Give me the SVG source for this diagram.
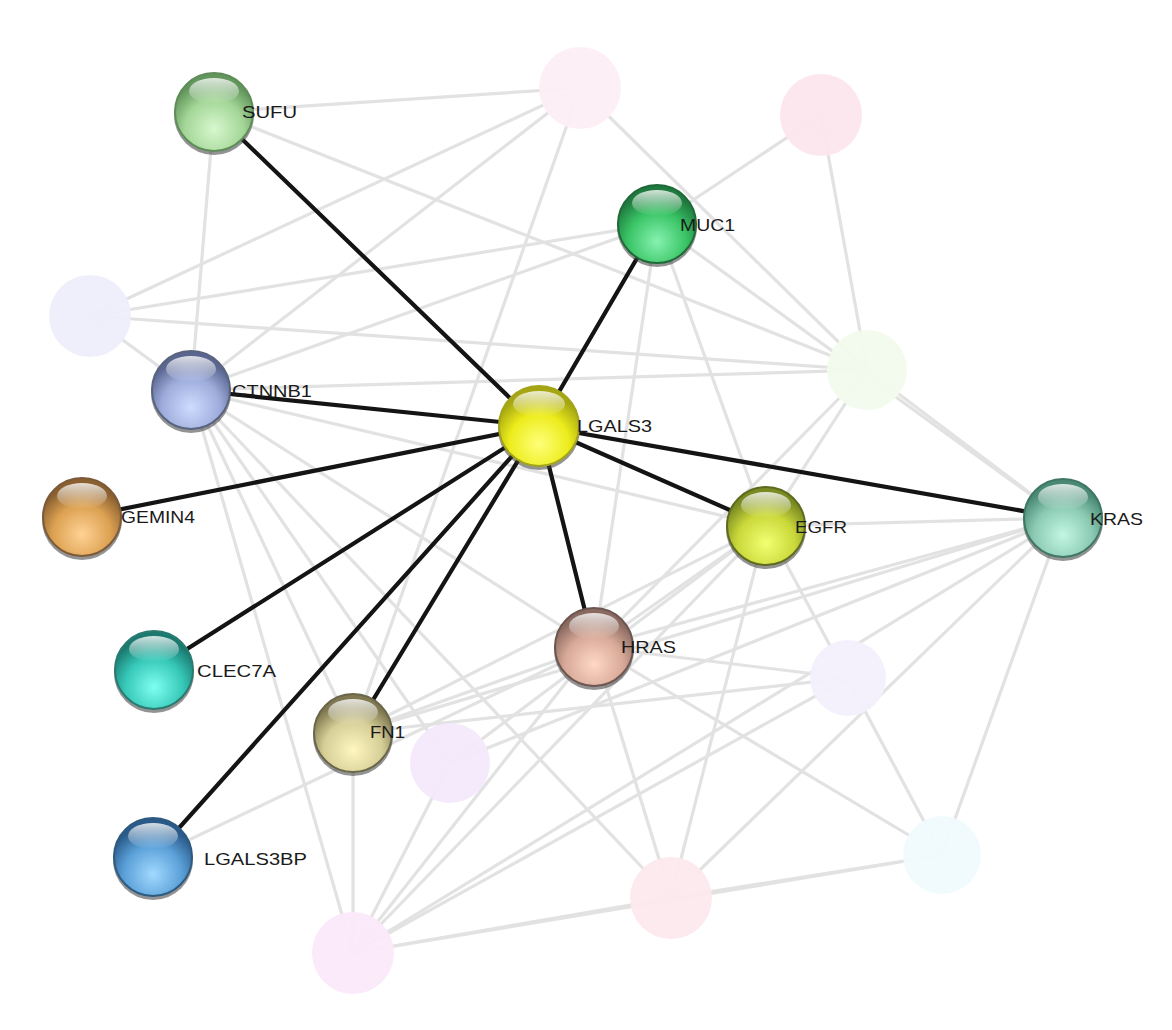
<svg xmlns="http://www.w3.org/2000/svg" width="1172" height="1030" viewBox="0 0 1172 1030">
<style>
.bg{fill:#ffffff}
.grey line{stroke:#e2e2e2;stroke-width:3.2;stroke-linecap:round}
.black line{stroke:#141414;stroke-width:4.2;stroke-linecap:round}
.faded{stroke:none;fill-opacity:0.95}
.shadow{fill:#3a3a3a;opacity:0.55}
.ball{stroke-width:2}
.hl{fill:url(#hl)}
.lbl{font-family:"Liberation Sans",Arial,sans-serif;font-size:17px;fill:#1a1a1a}
</style>
<defs>
<linearGradient id="hl" x1="0" y1="0" x2="0" y2="1">
<stop offset="0" stop-color="#ffffff" stop-opacity="0.8"/>
<stop offset="1" stop-color="#ffffff" stop-opacity="0"/>
</linearGradient>
<radialGradient id="g-sufu" cx="0.5" cy="0.72" r="0.62"><stop offset="0" stop-color="#d8f7cf"/><stop offset="0.6" stop-color="#a4d798"/><stop offset="1" stop-color="#62965c"/></radialGradient>
<radialGradient id="g-muc1" cx="0.5" cy="0.72" r="0.62"><stop offset="0" stop-color="#86f2b0"/><stop offset="0.6" stop-color="#3ac466"/><stop offset="1" stop-color="#1e7a3e"/></radialGradient>
<radialGradient id="g-ctnnb1" cx="0.5" cy="0.72" r="0.62"><stop offset="0" stop-color="#cfdcff"/><stop offset="0.6" stop-color="#9eacdc"/><stop offset="1" stop-color="#5a6690"/></radialGradient>
<radialGradient id="g-lgals3" cx="0.5" cy="0.72" r="0.62"><stop offset="0" stop-color="#ffff7a"/><stop offset="0.6" stop-color="#ecec1c"/><stop offset="1" stop-color="#a6a612"/></radialGradient>
<radialGradient id="g-gemin4" cx="0.5" cy="0.72" r="0.62"><stop offset="0" stop-color="#ffd294"/><stop offset="0.6" stop-color="#dca152"/><stop offset="1" stop-color="#8a6030"/></radialGradient>
<radialGradient id="g-egfr" cx="0.5" cy="0.72" r="0.62"><stop offset="0" stop-color="#f2ff72"/><stop offset="0.6" stop-color="#cad83a"/><stop offset="1" stop-color="#7a8a22"/></radialGradient>
<radialGradient id="g-kras" cx="0.5" cy="0.72" r="0.62"><stop offset="0" stop-color="#c2f7e2"/><stop offset="0.6" stop-color="#8ccab4"/><stop offset="1" stop-color="#4a8a74"/></radialGradient>
<radialGradient id="g-hras" cx="0.5" cy="0.72" r="0.62"><stop offset="0" stop-color="#ffd8c6"/><stop offset="0.6" stop-color="#d8a998"/><stop offset="1" stop-color="#8a6a60"/></radialGradient>
<radialGradient id="g-clec7a" cx="0.5" cy="0.72" r="0.62"><stop offset="0" stop-color="#7ffff0"/><stop offset="0.6" stop-color="#36c8b8"/><stop offset="1" stop-color="#1a7a70"/></radialGradient>
<radialGradient id="g-fn1" cx="0.5" cy="0.72" r="0.62"><stop offset="0" stop-color="#fff6c0"/><stop offset="0.6" stop-color="#d6cf98"/><stop offset="1" stop-color="#807850"/></radialGradient>
<radialGradient id="g-lgals3bp" cx="0.5" cy="0.72" r="0.62"><stop offset="0" stop-color="#a2d9ff"/><stop offset="0.6" stop-color="#5aa0d8"/><stop offset="1" stop-color="#2a5a8a"/></radialGradient>
</defs>
<rect class="bg" x="0" y="0" width="1172" height="1030"/>
<g id="connectors">
<g class="grey">
<line x1="214" y1="112" x2="580" y2="88"/>
<line x1="214" y1="112" x2="191" y2="390"/>
<line x1="214" y1="112" x2="867" y2="370"/>
<line x1="580" y1="88" x2="90" y2="316"/>
<line x1="580" y1="88" x2="191" y2="390"/>
<line x1="580" y1="88" x2="867" y2="370"/>
<line x1="580" y1="88" x2="353" y2="733"/>
<line x1="821" y1="115" x2="657" y2="224"/>
<line x1="821" y1="115" x2="867" y2="370"/>
<line x1="657" y1="224" x2="191" y2="390"/>
<line x1="657" y1="224" x2="90" y2="316"/>
<line x1="657" y1="224" x2="1063" y2="518"/>
<line x1="657" y1="224" x2="766" y2="526"/>
<line x1="657" y1="224" x2="594" y2="647"/>
<line x1="90" y1="316" x2="867" y2="370"/>
<line x1="90" y1="316" x2="191" y2="390"/>
<line x1="191" y1="390" x2="867" y2="370"/>
<line x1="191" y1="390" x2="766" y2="526"/>
<line x1="191" y1="390" x2="594" y2="647"/>
<line x1="191" y1="390" x2="353" y2="953"/>
<line x1="191" y1="390" x2="450" y2="763"/>
<line x1="191" y1="390" x2="671" y2="898"/>
<line x1="191" y1="390" x2="353" y2="733"/>
<line x1="867" y1="370" x2="594" y2="647"/>
<line x1="867" y1="370" x2="1063" y2="518"/>
<line x1="867" y1="370" x2="766" y2="526"/>
<line x1="766" y1="526" x2="1063" y2="518"/>
<line x1="766" y1="526" x2="942" y2="855"/>
<line x1="766" y1="526" x2="671" y2="898"/>
<line x1="766" y1="526" x2="353" y2="953"/>
<line x1="766" y1="526" x2="594" y2="647"/>
<line x1="766" y1="526" x2="353" y2="733"/>
<line x1="766" y1="526" x2="450" y2="763"/>
<line x1="1063" y1="518" x2="594" y2="647"/>
<line x1="1063" y1="518" x2="353" y2="733"/>
<line x1="1063" y1="518" x2="450" y2="763"/>
<line x1="1063" y1="518" x2="353" y2="953"/>
<line x1="1063" y1="518" x2="671" y2="898"/>
<line x1="1063" y1="518" x2="942" y2="855"/>
<line x1="594" y1="647" x2="353" y2="953"/>
<line x1="594" y1="647" x2="671" y2="898"/>
<line x1="594" y1="647" x2="942" y2="855"/>
<line x1="594" y1="647" x2="353" y2="733"/>
<line x1="594" y1="647" x2="153" y2="857"/>
<line x1="594" y1="647" x2="848" y2="678"/>
<line x1="848" y1="678" x2="353" y2="733"/>
<line x1="848" y1="678" x2="353" y2="953"/>
<line x1="353" y1="733" x2="353" y2="953"/>
<line x1="353" y1="953" x2="671" y2="898"/>
<line x1="353" y1="953" x2="942" y2="855"/>
<line x1="353" y1="953" x2="450" y2="763"/>
<line x1="671" y1="898" x2="942" y2="855"/>
</g>
<g class="black">
<line x1="539" y1="426" x2="214" y2="112"/>
<line x1="539" y1="426" x2="657" y2="224"/>
<line x1="539" y1="426" x2="191" y2="390"/>
<line x1="539" y1="426" x2="82" y2="517"/>
<line x1="539" y1="426" x2="154" y2="670"/>
<line x1="539" y1="426" x2="153" y2="857"/>
<line x1="539" y1="426" x2="353" y2="733"/>
<line x1="539" y1="426" x2="594" y2="647"/>
<line x1="539" y1="426" x2="766" y2="526"/>
<line x1="539" y1="426" x2="1063" y2="518"/>
</g>
</g>
<g id="node-f1"><circle class="faded" cx="580" cy="88" r="41" fill="#fdeef5"/></g>
<g id="node-f2"><circle class="faded" cx="821" cy="115" r="41" fill="#fde6ed"/></g>
<g id="node-f3"><circle class="faded" cx="90" cy="316" r="41" fill="#eeeefc"/></g>
<g id="node-f4"><circle class="faded" cx="867" cy="370" r="40" fill="#f2fbed"/></g>
<g id="node-f5"><circle class="faded" cx="848" cy="678" r="38" fill="#f3f0fd"/></g>
<g id="node-f6"><circle class="faded" cx="450" cy="763" r="40" fill="#f4e9fb"/></g>
<g id="node-f7"><circle class="faded" cx="942" cy="855" r="39" fill="#f0fbfd"/></g>
<g id="node-f8"><circle class="faded" cx="671" cy="898" r="41" fill="#fde9ed"/></g>
<g id="node-f9"><circle class="faded" cx="353" cy="953" r="41" fill="#fbe9fa"/></g>

<g id="node-sufu">
<circle class="shadow" cx="214" cy="115" r="40"/>
<circle class="ball" cx="214" cy="112" r="39" fill="url(#g-sufu)" stroke="#5e8d58"/>
<ellipse class="hl" cx="214" cy="91" rx="25" ry="13"/>
<text class="lbl" x="242" y="118" textLength="55" lengthAdjust="spacingAndGlyphs">SUFU</text>
</g>
<g id="node-muc1">
<circle class="shadow" cx="657" cy="227" r="40"/>
<circle class="ball" cx="657" cy="224" r="39" fill="url(#g-muc1)" stroke="#1f6a38"/>
<ellipse class="hl" cx="657" cy="203" rx="25" ry="13"/>
<text class="lbl" x="680" y="231" textLength="55" lengthAdjust="spacingAndGlyphs">MUC1</text>
</g>
<g id="node-ctnnb1">
<circle class="shadow" cx="191" cy="393" r="40"/>
<circle class="ball" cx="191" cy="390" r="39" fill="url(#g-ctnnb1)" stroke="#58637e"/>
<ellipse class="hl" cx="191" cy="369" rx="25" ry="13"/>
<text class="lbl" x="232" y="397" textLength="80" lengthAdjust="spacingAndGlyphs">CTNNB1</text>
</g>
<g id="node-lgals3">
<circle class="shadow" cx="539" cy="429" r="41"/>
<circle class="ball" cx="539" cy="426" r="40" fill="url(#g-lgals3)" stroke="#a4a41a"/>
<ellipse class="hl" cx="539" cy="404" rx="26" ry="13"/>
<text class="lbl" x="577" y="432" textLength="75" lengthAdjust="spacingAndGlyphs">LGALS3</text>
</g>
<g id="node-gemin4">
<circle class="shadow" cx="82" cy="520" r="40"/>
<circle class="ball" cx="82" cy="517" r="39" fill="url(#g-gemin4)" stroke="#7c5a38"/>
<ellipse class="hl" cx="82" cy="496" rx="25" ry="13"/>
<text class="lbl" x="121" y="523" textLength="74" lengthAdjust="spacingAndGlyphs">GEMIN4</text>
</g>
<g id="node-egfr">
<circle class="shadow" cx="766" cy="529" r="40"/>
<circle class="ball" cx="766" cy="526" r="39" fill="url(#g-egfr)" stroke="#5e6a1e"/>
<ellipse class="hl" cx="766" cy="505" rx="25" ry="13"/>
<text class="lbl" x="795" y="533" textLength="52" lengthAdjust="spacingAndGlyphs">EGFR</text>
</g>
<g id="node-kras">
<circle class="shadow" cx="1063" cy="521" r="40"/>
<circle class="ball" cx="1063" cy="518" r="39" fill="url(#g-kras)" stroke="#3f7766"/>
<ellipse class="hl" cx="1063" cy="497" rx="25" ry="13"/>
<text class="lbl" x="1090" y="525" textLength="53" lengthAdjust="spacingAndGlyphs">KRAS</text>
</g>
<g id="node-hras">
<circle class="shadow" cx="594" cy="650" r="40"/>
<circle class="ball" cx="594" cy="647" r="39" fill="url(#g-hras)" stroke="#6e5650"/>
<ellipse class="hl" cx="594" cy="626" rx="25" ry="13"/>
<text class="lbl" x="621" y="653" textLength="55" lengthAdjust="spacingAndGlyphs">HRAS</text>
</g>
<g id="node-clec7a">
<circle class="shadow" cx="154" cy="673" r="40"/>
<circle class="ball" cx="154" cy="670" r="39" fill="url(#g-clec7a)" stroke="#2a7a70"/>
<ellipse class="hl" cx="154" cy="649" rx="25" ry="13"/>
<text class="lbl" x="197" y="677" textLength="79" lengthAdjust="spacingAndGlyphs">CLEC7A</text>
</g>
<g id="node-fn1">
<circle class="shadow" cx="353" cy="736" r="40"/>
<circle class="ball" cx="353" cy="733" r="39" fill="url(#g-fn1)" stroke="#6a664a"/>
<ellipse class="hl" cx="353" cy="712" rx="25" ry="13"/>
<text class="lbl" x="370" y="738" textLength="35" lengthAdjust="spacingAndGlyphs">FN1</text>
</g>
<g id="node-lgals3bp">
<circle class="shadow" cx="153" cy="860" r="40"/>
<circle class="ball" cx="153" cy="857" r="39" fill="url(#g-lgals3bp)" stroke="#2e5a80"/>
<ellipse class="hl" cx="153" cy="836" rx="25" ry="13"/>
<text class="lbl" x="204" y="865" textLength="103" lengthAdjust="spacingAndGlyphs">LGALS3BP</text>
</g>
</svg>
